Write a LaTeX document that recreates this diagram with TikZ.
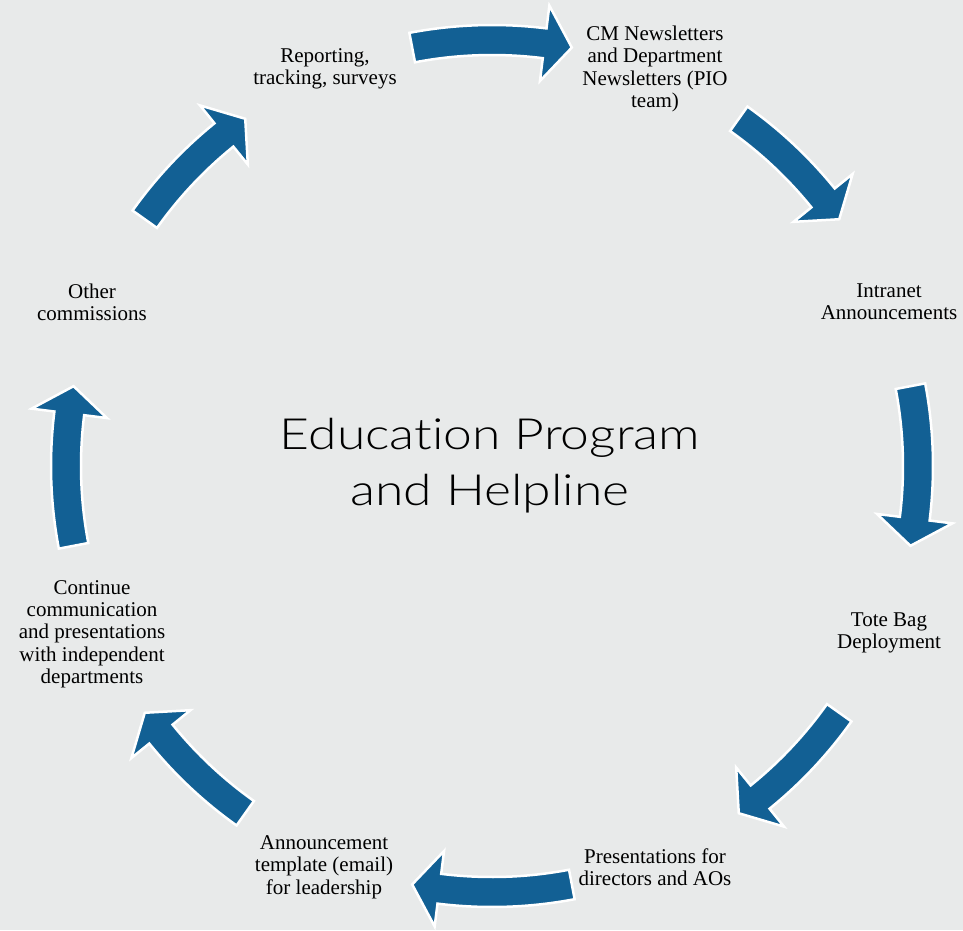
\documentclass[tikz,border=0pt]{standalone}
\usepackage{fontspec}
\setmainfont{Liberation Serif}
\newfontfamily\titlefont{Lato Light}[FakeStretch=1.2, Ligatures={NoCommon}]
\usetikzlibrary{positioning}

\definecolor{cyclebg}{RGB}{232,234,234}
\definecolor{cycleblue}{RGB}{18,96,148}

\tikzset{
  cyclearrow/.style={fill=cycleblue, draw=white, line width=2.5, line join=miter},
  cyclelabel/.style={inner sep=0.75pt, align=center, font=\fontsize{21}{22.3}\selectfont}
}

\begin{document}
\begin{tikzpicture}[x=1pt,y=1pt,yscale=-1,xscale=1]

%Background
\fill [cyclebg] (0,0) rectangle (963,930) ;
\useasboundingbox (0,0) rectangle (963,930) ;

%Curved Arrow [top]
\draw [cyclearrow, shift={(492,466)}] (-100.8:441) arc [start angle=-100.8, end angle=-82.9, radius=441] -- (-82.9:464) -- (-79.2:426) -- (-82.9:388) -- (-82.9:411) arc [start angle=-82.9, end angle=-100.8, radius=411] -- cycle ;
%Curved Arrow [top right]
\draw [cyclearrow, shift={(492,466)}] (-54.6:441) arc [start angle=-54.6, end angle=-39.0, radius=441] -- (-39.0:464) -- (-35.4:426) -- (-39.0:388) -- (-39.0:411) arc [start angle=-39.0, end angle=-54.6, radius=411] -- cycle ;
%Curved Arrow [right]
\draw [cyclearrow, shift={(492,466)}] (-10.8:441) arc [start angle=-10.8, end angle=7.1, radius=441] -- (7.1:464) -- (10.8:426) -- (7.1:388) -- (7.1:411) arc [start angle=7.1, end angle=-10.8, radius=411] -- cycle ;
%Curved Arrow [bottom right]
\draw [cyclearrow, shift={(492,466)}] (35.4:441) arc [start angle=35.4, end angle=51.0, radius=441] -- (51.0:464) -- (54.6:426) -- (51.0:388) -- (51.0:411) arc [start angle=51.0, end angle=35.4, radius=411] -- cycle ;
%Curved Arrow [bottom]
\draw [cyclearrow, shift={(492,466)}] (79.2:441) arc [start angle=79.2, end angle=97.1, radius=441] -- (97.1:464) -- (100.8:426) -- (97.1:388) -- (97.1:411) arc [start angle=97.1, end angle=79.2, radius=411] -- cycle ;
%Curved Arrow [bottom left]
\draw [cyclearrow, shift={(492,466)}] (125.4:441) arc [start angle=125.4, end angle=141.0, radius=441] -- (141.0:464) -- (144.6:426) -- (141.0:388) -- (141.0:411) arc [start angle=141.0, end angle=125.4, radius=411] -- cycle ;
%Curved Arrow [left]
\draw [cyclearrow, shift={(492,466)}] (169.2:441) arc [start angle=169.2, end angle=187.1, radius=441] -- (187.1:464) -- (190.8:426) -- (187.1:388) -- (187.1:411) arc [start angle=187.1, end angle=169.2, radius=411] -- cycle ;
%Curved Arrow [top left]
\draw [cyclearrow, shift={(492,466)}] (215.4:441) arc [start angle=215.4, end angle=231.0, radius=441] -- (231.0:464) -- (234.6:426) -- (231.0:388) -- (231.0:411) arc [start angle=231.0, end angle=215.4, radius=411] -- cycle ;

% Text Node
\draw (490,466) node (title) [inner sep=0.75pt] [font=\titlefont\fontsize{43}{56}\selectfont] [align=center] {Education Program\\and Helpline};

% Text Node
\draw (655,69) node (cmnews) [cyclelabel] {CM Newsletters\\and Department\\Newsletters (PIO\\team)};
% Text Node
\draw (889,302) node (intranet) [cyclelabel] {Intranet\\Announcements};
% Text Node
\draw (889,633) node (totebag) [cyclelabel] {Tote Bag\\Deployment};
% Text Node
\draw (655,867) node (presdir) [cyclelabel] {Presentations for\\directors and AOs};
% Text Node
\draw (324,867) node (announce) [cyclelabel] {Announcement\\template (email)\\for leadership};
% Text Node
\draw (92,634) node (contcomm) [cyclelabel] {Continue\\communication\\and presentations\\with independent\\departments};
% Text Node
\draw (92,302) node (othercomm) [cyclelabel] {Other\\commissions};
% Text Node
\draw (325,69) node (reporting) [cyclelabel] {Reporting,\\tracking, surveys};

\end{tikzpicture}
\end{document}
